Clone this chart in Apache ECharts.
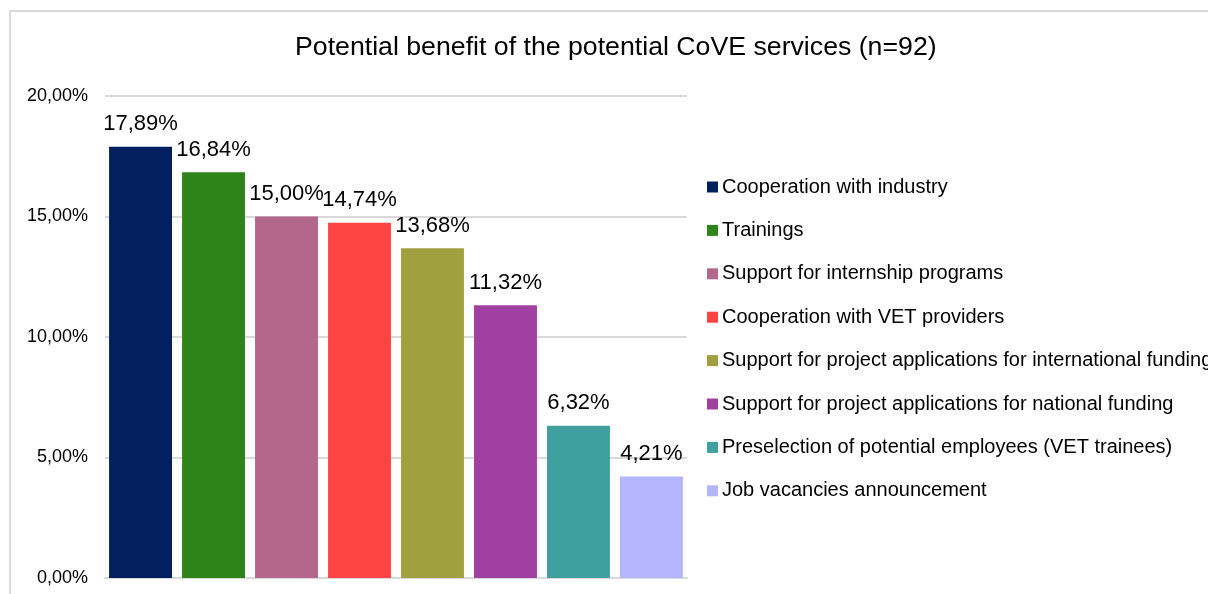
<!DOCTYPE html>
<html>
<head>
<meta charset="utf-8">
<script src="https://cdn.jsdelivr.net/npm/echarts@6/dist/echarts.min.js"></script>
<style>
html,body{margin:0;padding:0;background:#fff;}
#main{width:1208px;height:594px;}
</style>
</head>
<body>
<div id="main"></div>
<script>
const titleText = 'Potential benefit of the potential CoVE services (n=92)';
const seriesNames = [
  'Cooperation with industry',
  'Trainings',
  'Support for internship programs',
  'Cooperation with VET providers',
  'Support for project applications for international funding',
  'Support for project applications for national funding',
  'Preselection of potential employees (VET trainees)',
  'Job vacancies announcement'
];
const values = [17.89, 16.84, 15.00, 14.74, 13.68, 11.32, 6.32, 4.21];
const colors = ['#02205E', '#2E8419', '#B2678B', '#FF4444', '#A0A040', '#A040A0', '#40A0A0', '#B4B4FF'];
const yMin = 0, yMax = 20, yStep = 5;

const FONT = '"Liberation Sans", Arial, sans-serif';
const fmt = v => v.toFixed(2).replace('.', ',') + '%';

const chart = echarts.init(document.getElementById('main'), null, {renderer: 'canvas'});
chart.setOption({
  backgroundColor: '#ffffff',
  animation: false,
  textStyle: {fontFamily: FONT},
  graphic: [{
    type: 'rect',
    shape: {x: 10, y: 11, width: 1400, height: 800},
    style: {fill: 'none', stroke: '#d9d9d9', lineWidth: 2},
    z: -10
  }],
  title: {
    text: titleText,
    left: 295,
    top: 34.5,
    padding: 0,
    textStyle: {fontFamily: FONT, fontSize: 26.7, fontWeight: 'normal', color: '#000'}
  },
  legend: {
    orient: 'vertical',
    left: 707,
    top: 177,
    itemWidth: 11,
    itemHeight: 11,
    itemGap: 23.4,
    padding: 0,
    icon: 'rect',
    textStyle: {fontFamily: FONT, fontSize: 20, color: '#000', lineHeight: 20, padding: [0, 0, 0, -1]},
    data: seriesNames
  },
  grid: {left: 105, right: 521, top: 96, bottom: 16, containLabel: false},
  xAxis: {
    type: 'category',
    data: [''],
    axisLine: {show: true, lineStyle: {color: '#d9d9d9', width: 2}},
    axisTick: {show: false},
    axisLabel: {show: false}
  },
  yAxis: {
    type: 'value',
    min: yMin, max: yMax, interval: yStep,
    axisLine: {show: false},
    axisTick: {show: false},
    splitLine: {lineStyle: {color: '#d9d9d9', width: 2}},
    axisLabel: {
      margin: 17,
      fontFamily: FONT, fontSize: 18, color: '#000',
      formatter: v => fmt(v)
    }
  },
  series: seriesNames.map((name, i) => ({
    name: name,
    type: 'bar',
    data: [values[i]],
    barGap: '16%',
    barCategoryGap: '1.4%',
    itemStyle: {color: colors[i]},
    label: {
      show: true,
      position: 'top',
      distance: 11.5,
      fontFamily: FONT, fontSize: 22, color: '#000',
      formatter: p => fmt(p.value)
    }
  }))
});
</script>
</body>
</html>
